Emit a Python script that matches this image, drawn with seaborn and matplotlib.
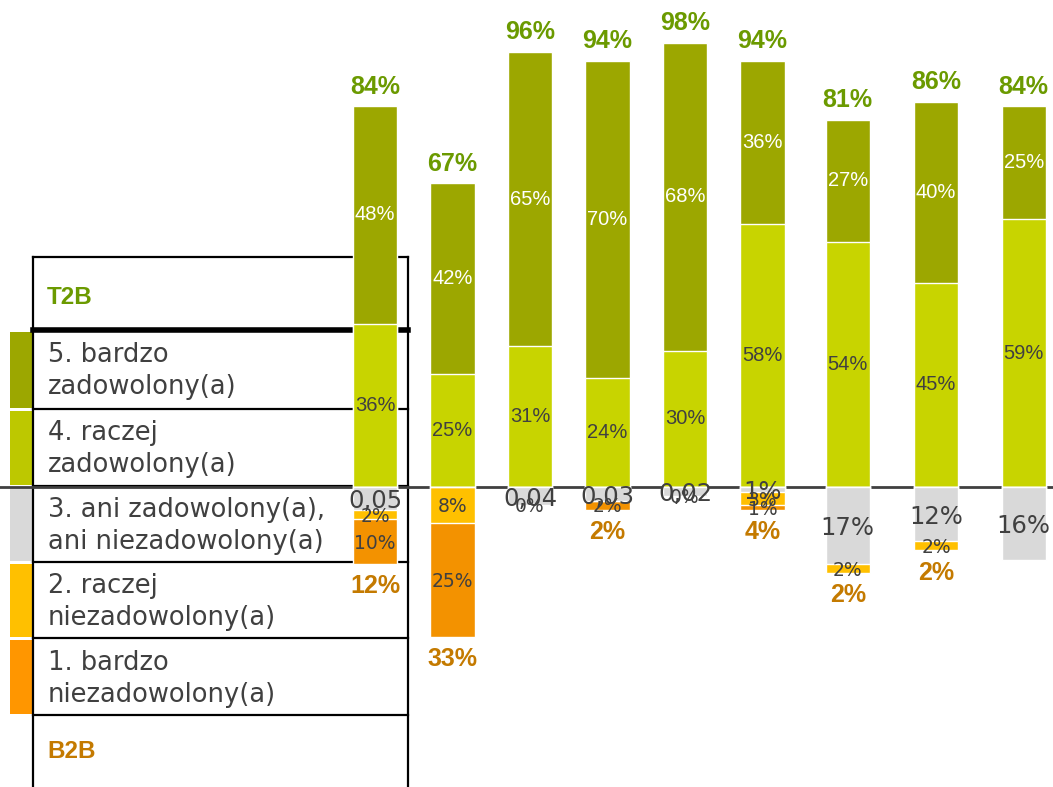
import matplotlib
matplotlib.use("Agg")
import numpy as np
import pandas as pd
import matplotlib.pyplot as plt
import seaborn as sns

# wartosci (w %)
very_sat = [48, 42, 65, 70, 68, 36, 27, 40, 25]      # 5. bardzo zadowolony(a)
rather_sat = [36, 25, 31, 24, 30, 58, 54, 45, 59]    # 4. raczej zadowolony(a)
neutral = [5, 0, 4, 3, 2, 1, 17, 12, 16]             # 3. ani ... ani ...
rather_dis = [2, 8, 0, 0, 0, 3, 2, 2, 0]             # 2. raczej niezadowolony(a)
very_dis = [10, 25, 0, 2, 0, 1, 0, 0, 0]             # 1. bardzo niezadowolony(a)
t2b = [84, 67, 96, 94, 98, 94, 81, 86, 84]

# etykiety tak jak w oryginale (z jego bledami formatowania)
neutral_labels = ["0,05", "", "0,04", "0,03", "0,02", "1%", "17%", "12%", "16%"]
rather_dis_labels = ["2%", "8%", "0%", "", "0%", "3%", "2%", "2%", ""]
very_dis_labels = ["10%", "25%", "", "2%", "", "1%", "", "", ""]

legend_rows = ["5. bardzo\nzadowolony(a)", "4. raczej\nzadowolony(a)",
               "3. ani zadowolony(a),\nani niezadowolony(a)",
               "2. raczej\nniezadowolony(a)", "1. bardzo\nniezadowolony(a)"]

# uklad: polozenie slupkow (ostatnie trzy sa nieco dalej od siebie)
bar_pos = [0, 1, 2, 3, 4, 5, 6.1, 7.24, 8.37]

c5, c4, c3, c2, c1 = "#9ca700", "#c8d400", "#d9d9d9", "#ffc000", "#f39200"
col_t2b, col_b2b, txt = "#6b9a00", "#c47a00", "#404040"

df = pd.DataFrame({
    "pos": bar_pos,
    "v5": very_sat, "v4": rather_sat, "v3": neutral, "v2": rather_dis, "v1": very_dis,
})
df["top"] = df["v5"] + df["v4"]
df["neg1"] = -(df["v3"] + df["v2"] + df["v1"])
df["neg2"] = -(df["v3"] + df["v2"])
df["neg3"] = -df["v3"]
b2b = (df["v2"] + df["v1"]).tolist()

W, H = 1053, 787
fig = plt.figure(figsize=(W / 100, H / 100), dpi=100)

# --- tabela z legenda (tlo) ---
tax = fig.add_axes([0, 0, 1, 1], zorder=0)
tax.set_xlim(0, W)
tax.set_ylim(H, 0)
tax.axis("off")
rows_y = [330, 409, 486, 562, 638, 715]
tax.plot([33, 408], [257, 257], color="black", lw=1.6)
tax.plot([33, 408], [330, 330], color="black", lw=4)
for y in rows_y[1:]:
    tax.plot([33, 408], [y, y], color="black", lw=1.6)
tax.plot([33, 33], [257, H], color="black", lw=1.6)
tax.plot([408, 408], [257, H], color="black", lw=1.6)
sw_cols = [c5, "#bdc800", c3, c2, "#ff9600"]
for k in range(5):
    y0, y1 = rows_y[k], rows_y[k + 1]
    tax.add_patch(plt.Rectangle((10, y0 + 2), 23, y1 - y0 - 3, color=sw_cols[k], lw=0))
    tax.text(48, (y0 + y1) / 2 + 2, legend_rows[k], fontsize=18.5, color=txt,
             va="center", ha="left", linespacing=1.3, family="DejaVu Sans")
tax.text(47, 297, "T2B", fontsize=17.5, fontweight="bold", color=col_t2b,
         va="center", family="Liberation Sans")
tax.text(47, 752, "B2B", fontsize=17.5, fontweight="bold", color=col_b2b,
         va="center", family="Liberation Sans")

# --- slupki ---
ax = fig.add_axes([0, 0, 1, 1], zorder=1)
ax.patch.set_alpha(0)
kw = dict(data=df, x="pos", native_scale=True, width=0.57, saturation=1,
          edgecolor="white", linewidth=1, ax=ax, errorbar=None)
sns.barplot(y="top", color=c5, **kw)
sns.barplot(y="v4", color=c4, **kw)
sns.barplot(y="neg1", color=c1, **kw)
sns.barplot(y="neg2", color=c2, **kw)
sns.barplot(y="neg3", color=c3, **kw)

ax.axhline(0, color="#404040", lw=2, zorder=0.5)

step = 77.5
x0 = 375
ax.set_xlim(-x0 / step, (W - x0) / step)
ppp = 4.535
ax.set_ylim(-(H - 487) / ppp, 487 / ppp)
ax.axis("off")

for i, xp in enumerate(bar_pos):
    v4, v5 = rather_sat[i], very_sat[i]
    ax.text(xp, v4 / 2, f"{v4}%", ha="center", va="center", fontsize=14.5,
            color=txt, family="Liberation Sans")
    ax.text(xp, v4 + v5 / 2, f"{v5}%", ha="center", va="center", fontsize=14.5,
            color="white", family="Liberation Sans")
    ax.annotate(f"{t2b[i]}%", (xp, v4 + v5), xytext=(0, 14), textcoords="offset points",
                ha="center", va="center", fontsize=18, fontweight="bold",
                color=col_t2b, family="Liberation Sans")
    n, r, d = neutral[i], rather_dis[i], very_dis[i]
    if neutral_labels[i]:
        ax.text(xp, -n / 2 - 0.6, neutral_labels[i], ha="center", va="center",
                fontsize=17.5, color=txt, family="DejaVu Sans")
    if rather_dis_labels[i]:
        ax.text(xp, -n - r / 2 - 0.4, rather_dis_labels[i], ha="center", va="center",
                fontsize=13.5, color=txt, family="DejaVu Sans")
    if very_dis_labels[i]:
        ax.text(xp, -n - r - d / 2 - 0.4, very_dis_labels[i], ha="center", va="center",
                fontsize=13.5, color=txt, family="DejaVu Sans")
    if b2b[i] > 0:
        ax.annotate(f"{b2b[i]}%", (xp, -(n + r + d)), xytext=(0, -16),
                    textcoords="offset points", ha="center", va="center",
                    fontsize=18, fontweight="bold", color=col_b2b,
                    family="Liberation Sans")

fig.savefig("out.png", dpi=100)
